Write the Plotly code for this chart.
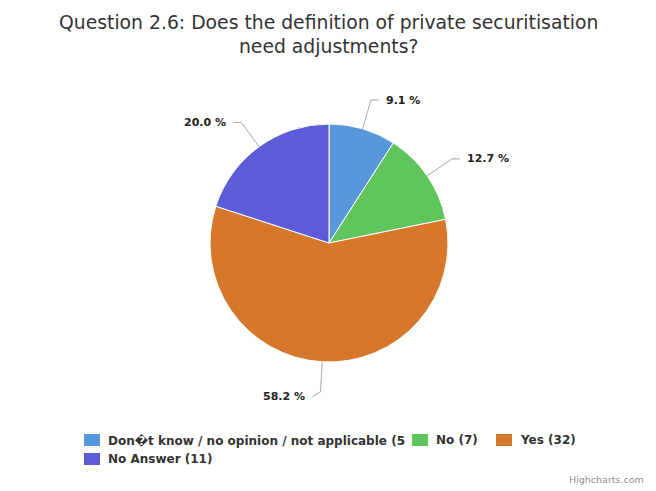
import math
import plotly.graph_objects as go

# Survey answers: "Does the definition of private securitisation need adjustments?"
categories = [
    "Don\ufffdt know / no opinion / not applicable (5)",
    "No (7)",
    "Yes (32)",
    "No Answer (11)",
]
counts = [5, 7, 32, 11]
slice_colors = ["#5897da", "#5ec45b", "#d6772b", "#5c5cd8"]

W, H = 656, 491
CX, CY, R = 329, 243, 119      # pie centre and radius in pixels
LABEL_DIST = 30                # distance of the data labels from the pie edge

# Legend entry slots (left edge of the colour box, row centre) in pixels
LEGEND_SLOTS = [(84, 440), (412, 440), (496, 440), (84, 459)]
BOX_W, BOX_H, BOX_GAP = 16, 12, 6


def px(x):
    return x / W


def py(y):
    return 1 - y / H


fig = go.Figure()
fig.add_trace(go.Pie(
    labels=categories,
    values=counts,
    sort=False,
    direction="clockwise",
    rotation=0,
    textinfo="none",
    hoverinfo="label+percent",
    marker=dict(colors=slice_colors, line=dict(color="#ffffff", width=1)),
    domain=dict(x=[px(CX - R), px(CX + R)], y=[py(CY + R), py(CY - R)]),
    showlegend=False,
))

# Percentage labels with leader lines, placed from each slice's mid angle
total = sum(counts)
shapes, annotations = [], []
cum = 0
for v in counts:
    theta = 2 * math.pi * (cum + v / 2) / total
    cum += v
    sx, sy = math.sin(theta), -math.cos(theta)
    ex, ey = CX + R * sx, CY + R * sy
    bx, by = CX + (R + LABEL_DIST) * sx, CY + (R + LABEL_DIST) * sy
    side = 1 if sx >= 0 else -1
    # labels below the pie sit a little lower than the bend of their line
    ly = by + (5 if sy > 0.9 else 0)
    hx = bx + side * 8
    shapes.append(dict(
        type="path", xref="paper", yref="paper",
        path=f"M {px(ex)} {py(ey)} L {px(bx)} {py(by)} L {px(hx)} {py(ly)}",
        line=dict(color="#a8a8a8", width=1),
    ))
    annotations.append(dict(
        x=px(hx + side * 5), y=py(ly), xref="paper", yref="paper",
        text=f"<b>{100 * v / total:.1f} %</b>", showarrow=False,
        xanchor="left" if side > 0 else "right", yanchor="middle",
        font=dict(family="DejaVu Sans", size=11, color="#222222"),
    ))

# Legend: coloured box + label for every slice; the long first entry runs
# into the next one, which hides its closing bracket
for i, (name, col, (lx, ly)) in enumerate(zip(categories, slice_colors, LEGEND_SLOTS)):
    shapes.append(dict(
        type="rect", xref="paper", yref="paper",
        x0=px(lx), x1=px(lx + BOX_W), y0=py(ly + BOX_H / 2), y1=py(ly - BOX_H / 2),
        fillcolor=col, line=dict(width=0),
    ))
    shown = name[:-1] if i == 0 else name
    annotations.append(dict(
        x=px(lx + BOX_W + BOX_GAP), y=py(ly), xref="paper", yref="paper",
        text=f"<b>{shown}</b>", showarrow=False, xanchor="left", yanchor="middle",
        font=dict(family="DejaVu Sans", size=12, color="#333333"),
    ))

# Title
annotations.append(dict(
    x=0.5, y=py(10), xref="paper", yref="paper",
    text="Question 2.6: Does the definition of private securitisation<br>need adjustments?",
    showarrow=False, xanchor="center", yanchor="top", align="center",
    font=dict(family="DejaVu Sans", size=18.8, color="#333333"),
))

# Credits
annotations.append(dict(
    x=px(646), y=py(479), xref="paper", yref="paper",
    text="Highcharts.com", showarrow=False, xanchor="right", yanchor="middle",
    font=dict(family="DejaVu Sans", size=9.5, color="#909090"),
))

fig.update_layout(
    width=W, height=H,
    margin=dict(l=0, r=0, t=0, b=0),
    paper_bgcolor="#ffffff",
    plot_bgcolor="#ffffff",
    showlegend=False,
    shapes=shapes,
    annotations=annotations,
)

fig.write_html("out.html")
